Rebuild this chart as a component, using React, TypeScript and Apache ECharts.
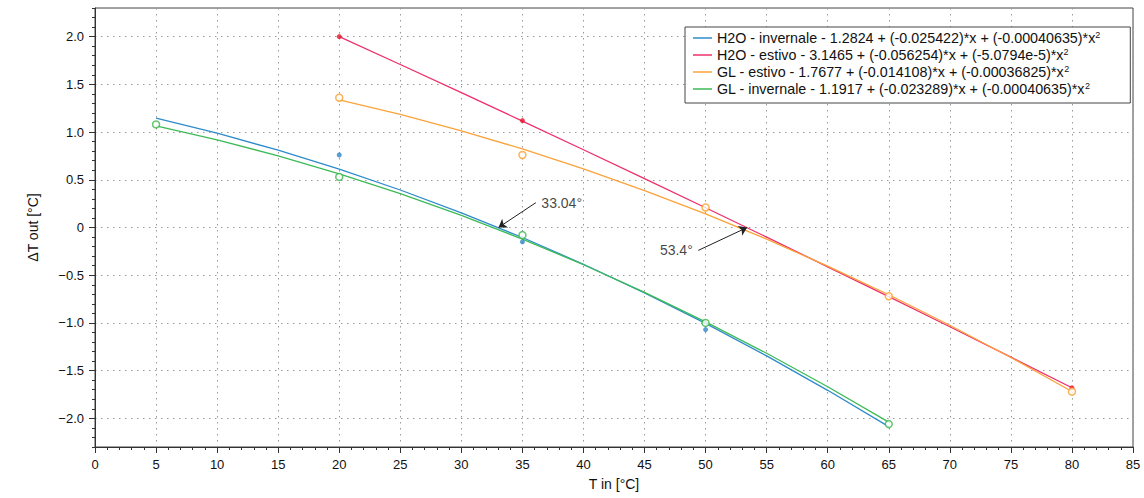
import React, { useEffect, useRef } from "react";
import * as echarts from "echarts";

// Fitted curves (evaluated every 5 °C)
const xWinter = [5, 10, 15, 20, 25, 30, 35, 40, 45, 50, 55, 60, 65];
const xSummer = [20, 25, 30, 35, 40, 45, 50, 55, 60, 65, 70, 75, 80];

const h2oInvernaleFit = [1.145, 0.988, 0.81, 0.611, 0.393, 0.154, -0.105, -0.385, -0.685, -1.005, -1.345, -1.706, -2.087];
const h2oEstivoFit = [2.001, 1.708, 1.413, 1.115, 0.815, 0.512, 0.207, -0.101, -0.412, -0.725, -1.04, -1.358, -1.679];
const glEstivoFit = [1.338, 1.185, 1.013, 0.823, 0.614, 0.387, 0.142, -0.122, -0.405, -0.705, -1.024, -1.362, -1.718];
const glInvernaleFit = [1.065, 0.918, 0.751, 0.563, 0.356, 0.127, -0.121, -0.39, -0.679, -0.989, -1.318, -1.669, -2.039];

// Measured points
const h2oInvernaleX = [20, 35, 50];
const h2oInvernaleY = [0.76, -0.15, -1.07];
const h2oEstivoX = [20, 35, 80];
const h2oEstivoY = [2.0, 1.12, -1.68];
const glEstivoX = [20, 35, 50, 65, 80];
const glEstivoY = [1.36, 0.76, 0.21, -0.72, -1.72];
const glInvernaleX = [5, 20, 35, 50, 65];
const glInvernaleY = [1.08, 0.53, -0.08, -1.0, -2.06];

const seriesNames = [
  "H2O - invernale - 1.2824 + (-0.025422)*x + (-0.00040635)*x",
  "H2O - estivo - 3.1465 + (-0.056254)*x + (-5.0794e-5)*x",
  "GL - estivo - 1.7677 + (-0.014108)*x + (-0.00036825)*x",
  "GL - invernale - 1.1917 + (-0.023289)*x + (-0.00040635)*x",
];
const lineColors = ["#2e8bcc", "#ef2f6b", "#fba33a", "#3dba57"];
const markerColors = ["#2e86c8", "#e8142c", "#f99f2c", "#39b54a"];

// Zero crossings marked with arrows
const crossings = [33.04, 53.4];
const crossingLabels = ["33.04°", "53.4°"];
const arrowTails = [
  [36.1, 0.26],
  [49.4, -0.24],
];

const yMajor = [-2, -1.5, -1, -0.5, 0, 0.5, 1, 1.5, 2];

const FONT = '"Liberation Sans", Arial, Helvetica, sans-serif';

const zip = (xs: number[], ys: number[]) => xs.map((x, i) => [x, ys[i]]);

export default function App() {
  const ref = useRef<HTMLDivElement>(null);

  useEffect(() => {
    if (!ref.current) return;
    const chart = echarts.init(ref.current, null, { renderer: "svg" });

    const fits = [
      zip(xWinter, h2oInvernaleFit),
      zip(xSummer, h2oEstivoFit),
      zip(xSummer, glEstivoFit),
      zip(xWinter, glInvernaleFit),
    ];
    const measured = [
      { data: zip(h2oInvernaleX, h2oInvernaleY), hollow: false },
      { data: zip(h2oEstivoX, h2oEstivoY), hollow: false },
      { data: zip(glEstivoX, glEstivoY), hollow: true },
      { data: zip(glInvernaleX, glInvernaleY), hollow: true },
    ];

    const lineSeries = fits.map((d, i) => ({
      type: "line",
      name: seriesNames[i],
      data: d,
      showSymbol: false,
      symbol: "none",
      lineStyle: { color: lineColors[i], width: 1.3 },
      itemStyle: { color: lineColors[i] },
      z: 2,
    }));

    const pointSeries = measured.map((m, i) => ({
      type: "scatter",
      name: "pts" + i,
      data: m.data,
      symbol: "circle",
      symbolSize: m.hollow ? 7 : 5,
      itemStyle: m.hollow
        ? { color: "#ffffff", borderColor: markerColors[i], borderWidth: 1.5 }
        : { color: markerColors[i] },
      z: 3,
    }));

    const annotationSeries = {
      type: "scatter",
      name: "annotations",
      symbolSize: 1,
      itemStyle: { color: "rgba(0,0,0,0)" },
      silent: true,
      z: 4,
      data: arrowTails.map((p, i) => ({
        value: p,
        label: {
          show: true,
          position: i === 0 ? "right" : "left",
          distance: 5,
          formatter: crossingLabels[i],
          color: "#111",
          fontSize: 14,
          fontFamily: FONT,
        },
      })),
      markLine: {
        silent: true,
        symbol: ["none", "arrow"],
        symbolSize: 8,
        lineStyle: { color: "#222", width: 1, type: "solid" },
        label: { show: false },
        data: arrowTails.map((p, i) => [
          { coord: p },
          { coord: [crossings[i], 0] },
        ]),
      },
    };

    chart.setOption({
      animation: false,
      backgroundColor: "#ffffff",
      grid: {
        left: 95,
        right: 11,
        top: 8,
        bottom: 51,
        show: true,
        borderColor: "#444",
        borderWidth: 1,
        backgroundColor: "#ffffff",
      },
      legend: {
        data: seriesNames.map((n, i) => ({
          name: n,
          icon: "rect",
          itemStyle: { color: lineColors[i] },
        })),
        orient: "vertical",
        left: 685,
        top: 27,
        itemWidth: 19,
        itemHeight: 1.5,
        itemGap: 1,
        padding: [3, 30, 6, 8],
        backgroundColor: "#ffffff",
        borderColor: "#444",
        borderWidth: 1,
        borderRadius: 0,
        formatter: (name: string) => name + "{sup|2}",
        textStyle: {
          fontSize: 14.3,
          fontFamily: FONT,
          color: "#111",
          lineHeight: 16,
          rich: {
            sup: { fontSize: 9, lineHeight: 16, verticalAlign: "top", fontFamily: FONT, color: "#111" },
          },
        },
      },
      xAxis: {
        type: "value",
        min: 0,
        max: 85,
        interval: 5,
        name: "T in [°C]",
        nameLocation: "middle",
        nameGap: 30,
        nameTextStyle: { fontSize: 14, fontFamily: FONT, color: "#111" },
        axisLine: { show: true, onZero: false, lineStyle: { color: "#333" } },
        axisTick: { show: true, length: 6, lineStyle: { color: "#333" } },
        minorTick: { show: true, splitNumber: 5, length: 3, lineStyle: { color: "#333" } },
        axisLabel: { fontSize: 13, fontFamily: FONT, color: "#111", margin: 11 },
        splitLine: { show: true, lineStyle: { color: "#999", width: 1, type: [1.5, 4.5] } },
      },
      yAxis: [
        {
          type: "value",
          min: -2.3,
          max: 2.3,
          splitNumber: 9,
          position: "left",
          name: "ΔT out [°C]",
          nameLocation: "middle",
          nameGap: 55,
          nameTextStyle: { fontSize: 14, fontFamily: FONT, color: "#111" },
          axisLine: { show: true, onZero: false, lineStyle: { color: "#333" } },
          axisTick: { show: true, length: 6, customValues: yMajor, lineStyle: { color: "#333" } },
          axisLabel: {
            customValues: yMajor,
            fontSize: 13,
            fontFamily: FONT,
            color: "#111",
            margin: 11,
            formatter: (v: number) =>
              v === 0 ? "0" : (v < 0 ? "\u2212" : "") + Math.abs(v).toFixed(1),
          },
          splitLine: { show: true, lineStyle: { color: "#999", width: 1, type: [1.5, 4.5] } },
        },
        {
          type: "value",
          min: -2.3,
          max: 2.3,
          interval: 0.1,
          position: "left",
          axisLine: { show: false },
          axisTick: { show: true, length: 3, lineStyle: { color: "#333" } },
          axisLabel: { show: false },
          splitLine: { show: false },
        },
      ],
      series: [...lineSeries, ...pointSeries, annotationSeries],
    });

    return () => chart.dispose();
  }, []);

  return (
    <div
      ref={ref}
      style={{ position: "fixed", left: 0, top: 0, width: 1144, height: 498 }}
    />
  );
}
